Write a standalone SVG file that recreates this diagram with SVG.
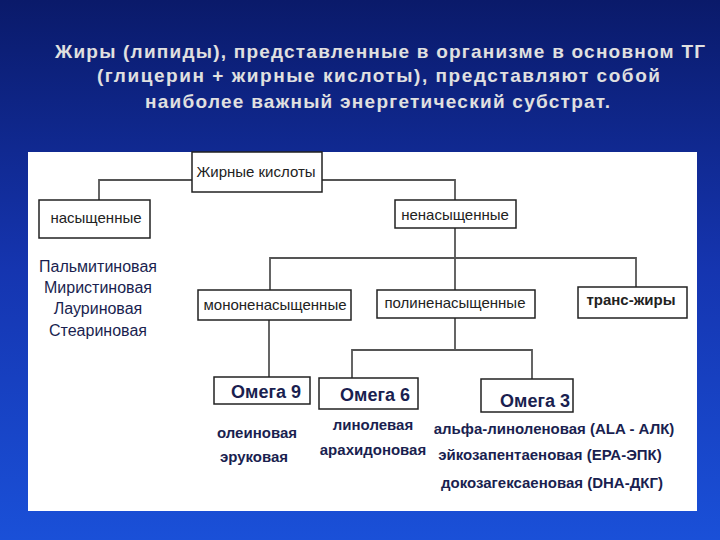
<svg xmlns="http://www.w3.org/2000/svg" width="720" height="540" viewBox="0 0 720 540">
<defs>
<linearGradient id="bg" x1="0" y1="0" x2="0" y2="1">
<stop offset="0" stop-color="#0a1a6a"/><stop offset="0.5" stop-color="#1535b0"/><stop offset="1" stop-color="#1a50d8"/>
</linearGradient>
</defs>
<style>
.b{fill:#fff;stroke:#222;stroke-width:1.5}
.t{font-family:"Liberation Sans",Arial,sans-serif;font-size:15px;fill:#222;text-anchor:middle}
.o{font-family:"Liberation Sans",Arial,sans-serif;font-size:18px;font-weight:bold;fill:#1a1f50;text-anchor:middle}
.l{font-family:"Liberation Sans",Arial,sans-serif;font-size:15px;font-weight:bold;fill:#1a1f50;text-anchor:middle}
.s{font-family:"Liberation Sans",Arial,sans-serif;font-size:16px;fill:#1a1f50;text-anchor:middle}
.h{font-family:"Liberation Sans",Arial,sans-serif;font-size:19px;font-weight:bold;fill:#e0e0e0}
.c{fill:none;stroke:#555;stroke-width:1.8}
</style>
<rect width="720" height="540" fill="url(#bg)"/>
<text class="h" x="55" y="58" textLength="650" lengthAdjust="spacing">Жиры (липиды), представленные в организме в основном ТГ</text>
<text class="h" x="97" y="82" textLength="563" lengthAdjust="spacing">(глицерин + жирные кислоты), представляют собой</text>
<text class="h" x="145" y="108" textLength="465" lengthAdjust="spacing">наиболее важный энергетический субстрат.</text>
<rect x="28" y="152" width="669" height="359" fill="#fff"/>
<g id="connectors">
<polyline class="c" points="192,180 99,180 99,200"/>
<polyline class="c" points="322,180 455,180 455,200"/>
<line class="c" x1="455" y1="228" x2="455" y2="290"/>
<polyline class="c" points="270,290 270,258 636,258 636,287"/>
<line class="c" x1="269" y1="320" x2="269" y2="377"/>
<line class="c" x1="455" y1="318" x2="455" y2="350"/>
<polyline class="c" points="352,378 352,350 532,350 532,379"/>
</g>
<g id="n-fa"><rect class="b" x="192" y="152" width="130" height="40"/><text class="t" x="256" y="177">Жирные кислоты</text></g>
<g id="n-sat"><rect class="b" x="39" y="200" width="111" height="38"/><text class="t" x="96" y="223">насыщенные</text></g>
<g id="n-sat-list">
<text class="s" x="98" y="272">Пальмитиновая</text>
<text class="s" x="98" y="293">Миристиновая</text>
<text class="s" x="98" y="314">Лауриновая</text>
<text class="s" x="98" y="336">Стеариновая</text>
</g>
<g id="n-unsat"><rect class="b" x="395" y="200" width="121" height="28"/><text class="t" x="455" y="220">ненасыщенные</text></g>
<g id="n-mono"><rect class="b" x="198" y="290" width="153" height="30"/><text class="t" x="275" y="310">мононенасыщенные</text></g>
<g id="n-poly"><rect class="b" x="377" y="290" width="158" height="28"/><text class="t" x="455" y="308">полиненасыщенные</text></g>
<g id="n-trans"><rect class="b" x="578" y="287" width="109" height="31"/><text class="t" x="631" y="305" font-weight="bold">транс-жиры</text></g>
<g id="n-o9"><rect class="b" x="214" y="377" width="96" height="27"/><text class="o" x="266" y="398">Омега 9</text></g>
<g id="n-o6"><rect class="b" x="319" y="378" width="99" height="31"/><text class="o" x="375" y="401">Омега 6</text></g>
<g id="n-o3"><rect class="b" x="481" y="379" width="92" height="33"/><text class="o" x="535" y="407">Омега 3</text></g>
<g id="n-o9-list"><text class="l" x="257" y="438">олеиновая</text><text class="l" x="254" y="462">эруковая</text></g>
<g id="n-o6-list"><text class="l" x="373" y="430">линолевая</text><text class="l" x="373" y="455">арахидоновая</text></g>
<g id="n-o3-list"><text class="l" x="554" y="434">альфа-линоленовая (ALA - АЛК)</text><text class="l" x="550" y="460">эйкозапентаеновая (ЕРА-ЭПК)</text><text class="l" x="552" y="488">докозагексаеновая (DHA-ДКГ)</text></g>
</svg>
